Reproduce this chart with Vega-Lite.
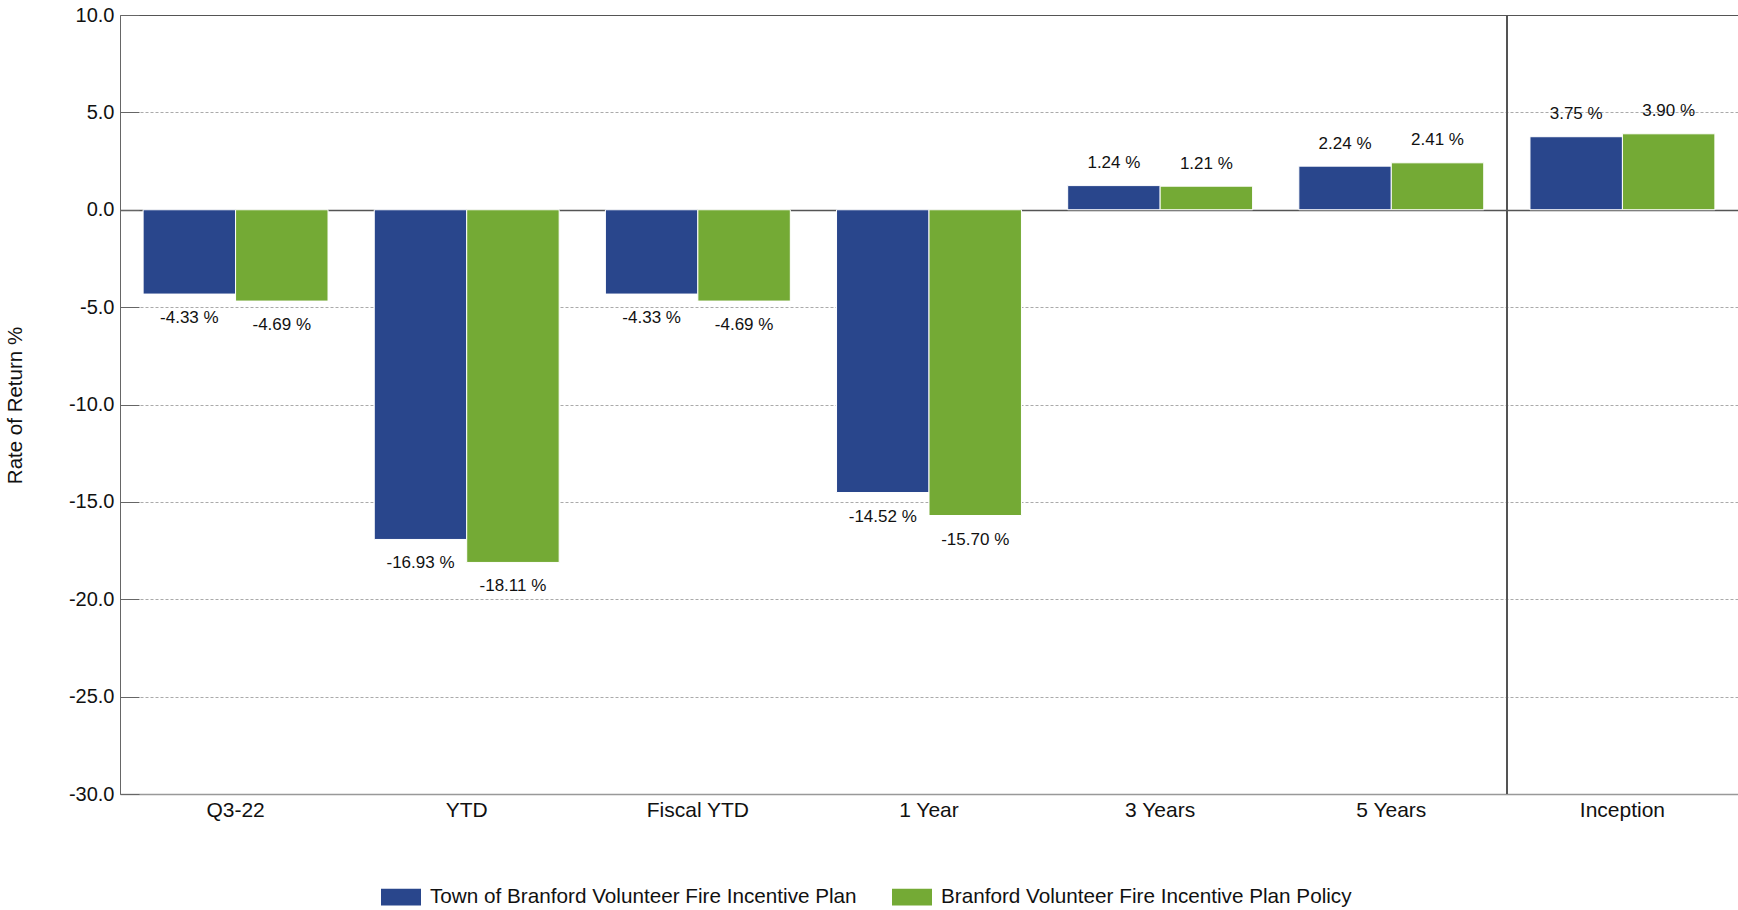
{
  "$schema": "https://vega.github.io/schema/vega-lite/v6.json",
  "autosize": {"type": "none"},
  "padding": {"left": 120, "top": 15, "right": 0, "bottom": 116},
  "width": 1618,
  "height": 779,
  "background": "white",
  "config": {"view": {"stroke": null}, "font": "Liberation Sans"},
  "data": {
    "values": [
      {"period": "Q3-22", "series": "Town of Branford Volunteer Fire Incentive Plan", "value": -4.33, "label": "-4.33 %"},
      {"period": "Q3-22", "series": "Branford Volunteer Fire Incentive Plan Policy", "value": -4.69, "label": "-4.69 %"},
      {"period": "YTD", "series": "Town of Branford Volunteer Fire Incentive Plan", "value": -16.93, "label": "-16.93 %"},
      {"period": "YTD", "series": "Branford Volunteer Fire Incentive Plan Policy", "value": -18.11, "label": "-18.11 %"},
      {"period": "Fiscal YTD", "series": "Town of Branford Volunteer Fire Incentive Plan", "value": -4.33, "label": "-4.33 %"},
      {"period": "Fiscal YTD", "series": "Branford Volunteer Fire Incentive Plan Policy", "value": -4.69, "label": "-4.69 %"},
      {"period": "1 Year", "series": "Town of Branford Volunteer Fire Incentive Plan", "value": -14.52, "label": "-14.52 %"},
      {"period": "1 Year", "series": "Branford Volunteer Fire Incentive Plan Policy", "value": -15.70, "label": "-15.70 %"},
      {"period": "3 Years", "series": "Town of Branford Volunteer Fire Incentive Plan", "value": 1.24, "label": "1.24 %"},
      {"period": "3 Years", "series": "Branford Volunteer Fire Incentive Plan Policy", "value": 1.21, "label": "1.21 %"},
      {"period": "5 Years", "series": "Town of Branford Volunteer Fire Incentive Plan", "value": 2.24, "label": "2.24 %"},
      {"period": "5 Years", "series": "Branford Volunteer Fire Incentive Plan Policy", "value": 2.41, "label": "2.41 %"},
      {"period": "Inception", "series": "Town of Branford Volunteer Fire Incentive Plan", "value": 3.75, "label": "3.75 %"},
      {"period": "Inception", "series": "Branford Volunteer Fire Incentive Plan Policy", "value": 3.90, "label": "3.90 %"}
    ]
  },
  "layer": [
    {
      "mark": {"type": "bar", "stroke": "white", "strokeWidth": 1},
      "encoding": {
        "x": {
          "field": "period", "type": "nominal",
          "sort": ["Q3-22", "YTD", "Fiscal YTD", "1 Year", "3 Years", "5 Years", "Inception"],
          "scale": {"paddingInner": 0, "paddingOuter": 0},
          "axis": {"title": null, "labelFontSize": 21, "labelColor": "#111", "ticks": false, "labelPadding": 5, "domainColor": "#999", "domainWidth": 1.5, "grid": false, "labelAngle": 0}
        },
        "xOffset": {
          "field": "series", "type": "nominal",
          "sort": ["Town of Branford Volunteer Fire Incentive Plan", "Branford Volunteer Fire Incentive Plan Policy"],
          "scale": {"paddingInner": 0, "paddingOuter": 0.25}
        },
        "y": {
          "field": "value", "type": "quantitative",
          "scale": {"domain": [-30, 10], "nice": false, "zero": false},
          "axis": {
            "values": [-30, -25, -20, -15, -10, -5, 0, 5, 10],
            "labelExpr": "replace(format(datum.value,'.1f'),'\u2212','-')",
            "labelFontSize": 20, "labelColor": "#111",
            "tickSize": -19, "tickColor": "#666", "labelPadding": 25,
            "domainColor": "#666",
            "grid": true,
            "gridColor": {"condition": {"test": "datum.value === 0 || datum.value === 10", "value": "#555"}, "value": "#aaa"},
            "gridDash": {"condition": {"test": "datum.value === 0 || datum.value === 10", "value": []}, "value": [3, 2]},
            "gridWidth": {"condition": {"test": "datum.value === 0", "value": 1.5}, "value": 1},
            "title": "Rate of Return %", "titleFontSize": 20.5, "titleFontWeight": "normal", "titleColor": "#111",
            "titleX": -105, "titleY": 390, "titleAngle": -90, "titleAlign": "center", "titleBaseline": "middle"
          }
        },
        "color": {
          "field": "series", "type": "nominal",
          "scale": {"domain": ["Town of Branford Volunteer Fire Incentive Plan", "Branford Volunteer Fire Incentive Plan Policy"], "range": ["#29468c", "#74aa35"]},
          "legend": {
            "title": null, "orient": "none", "legendX": 261, "legendY": 862, "direction": "horizontal",
            "symbolType": "M-1,-0.42H1V0.42H-1Z", "symbolSize": 1600, "symbolStrokeWidth": 0,
            "labelFontSize": 20.7, "labelColor": "#111", "labelOffset": 9, "columnPadding": 35, "labelLimit": 700
          }
        }
      }
    },
    {
      "mark": {"type": "rule", "color": "#555", "strokeWidth": 1},
      "encoding": {"x": {"datum": "Inception", "type": "nominal", "bandPosition": 0}}
    },
    {
      "transform": [{"filter": "datum.value < 0"}],
      "mark": {"type": "text", "baseline": "top", "dy": 16, "fontSize": 17, "color": "#111"},
      "encoding": {
        "x": {"field": "period", "type": "nominal", "sort": ["Q3-22", "YTD", "Fiscal YTD", "1 Year", "3 Years", "5 Years", "Inception"]},
        "xOffset": {"field": "series", "type": "nominal", "sort": ["Town of Branford Volunteer Fire Incentive Plan", "Branford Volunteer Fire Incentive Plan Policy"]},
        "y": {"field": "value", "type": "quantitative"},
        "text": {"field": "label"}
      }
    },
    {
      "transform": [{"filter": "datum.value >= 0"}],
      "mark": {"type": "text", "baseline": "alphabetic", "dy": -17.5, "fontSize": 17, "color": "#111"},
      "encoding": {
        "x": {"field": "period", "type": "nominal", "sort": ["Q3-22", "YTD", "Fiscal YTD", "1 Year", "3 Years", "5 Years", "Inception"]},
        "xOffset": {"field": "series", "type": "nominal", "sort": ["Town of Branford Volunteer Fire Incentive Plan", "Branford Volunteer Fire Incentive Plan Policy"]},
        "y": {"field": "value", "type": "quantitative"},
        "text": {"field": "label"}
      }
    }
  ]
}
